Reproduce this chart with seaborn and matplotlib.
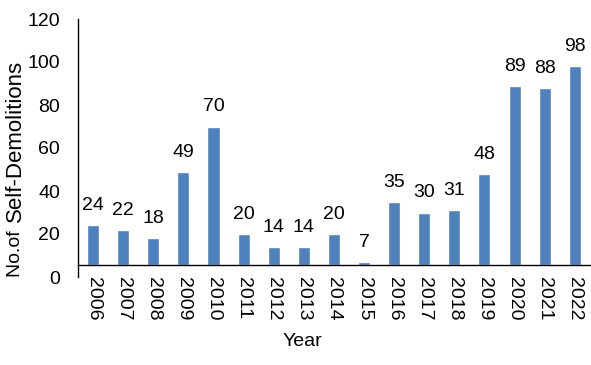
import matplotlib.pyplot as plt
import pandas as pd
import seaborn as sns

years = ['2006', '2007', '2008', '2009', '2010', '2011', '2012', '2013', '2014',
         '2015', '2016', '2017', '2018', '2019', '2020', '2021', '2022']
counts = [24, 22, 18, 49, 70, 20, 14, 14, 20, 7, 35, 30, 31, 48, 89, 88, 98]

# horizontal axis crosses the value axis a little above zero (as in the source)
axis_cross = 5.6

df = pd.DataFrame({'Year': years, 'Count': counts})

sns.set_style('white')
plt.rcParams['font.family'] = ['Liberation Sans', 'DejaVu Sans']
plt.rcParams['text.color'] = 'black'
plt.rcParams['xtick.color'] = 'black'
plt.rcParams['ytick.color'] = 'black'

fig = plt.figure(figsize=(5.91, 3.65), dpi=100)
ax = fig.add_axes([0.132, 1 - 277 / 365, 0.866, 258 / 365])

sns.barplot(data=df, x='Year', y='Count', color='#4F81BD', saturation=1,
            width=0.4, ax=ax)
# bars grow from the axis line, not from zero
for p in ax.containers[0]:
    top = p.get_y() + p.get_height()
    p.set_y(axis_cross)
    p.set_height(top - axis_cross)
ax.bar_label(ax.containers[0], labels=[str(c) for c in counts],
             fontsize=14, padding=8)

ax.set_ylim(0, 120)
ax.set_yticks(range(0, 121, 20))
ax.set_xlim(-0.5, 16.5)
ax.tick_params(axis='y', labelsize=14, length=0, pad=13)
ax.tick_params(axis='x', labelsize=14, length=0, rotation=-90, pad=9)
ax.set_xlabel('')
ax.set_ylabel('')

for s in ['top', 'right']:
    ax.spines[s].set_visible(False)
for s in ['left', 'bottom']:
    ax.spines[s].set_color('black')
    ax.spines[s].set_linewidth(1)
ax.spines['bottom'].set_position(('data', axis_cross))

fig.text(302 / 591, 1 - 342 / 365, 'Year', fontsize=14, ha='center', va='center')
fig.text(15 / 591, 1 - 277 / 365, 'No.of ', fontsize=14, rotation=90,
         ha='center', va='bottom')
fig.text(15 / 591, 1 - 222 / 365, 'Self-Demolitions', fontsize=16, rotation=90,
         ha='center', va='bottom')

fig.savefig('out.png', dpi=100)
